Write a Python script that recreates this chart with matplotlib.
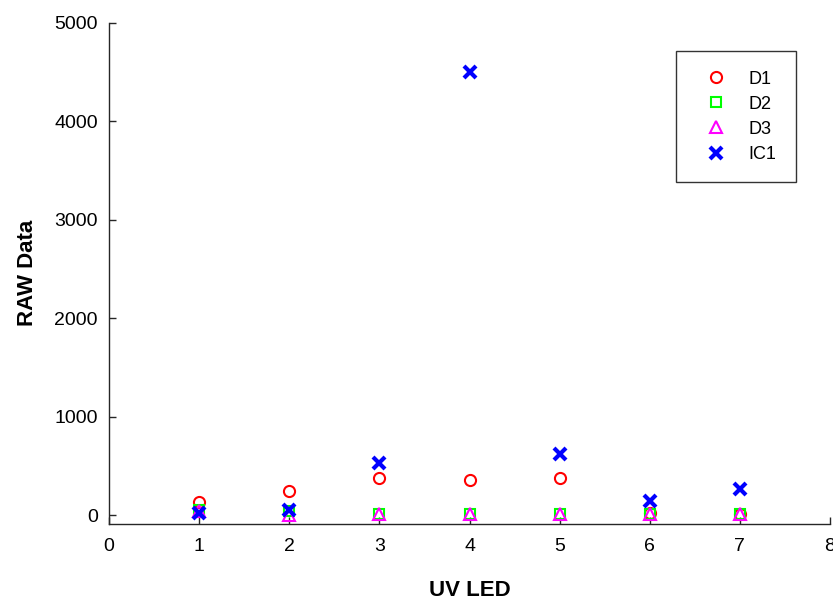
import matplotlib
matplotlib.use("Agg")
import matplotlib.pyplot as plt

plt.rcParams['font.family'] = ['Liberation Sans', 'DejaVu Sans']

x = [1, 2, 3, 4, 5, 6, 7]
d1 = [135, 247, 373, 355, 373, 20, 10]
d2 = [50, 45, 15, 15, 15, 15, 15]
d3 = [40, 5, 10, 10, 10, 10, 10]
ic1 = [17, 50, 531, 4500, 616, 145, 261]

xticks = [0, 1, 2, 3, 4, 5, 6, 7, 8]
yticks = [0, 1000, 2000, 3000, 4000, 5000]

fig = plt.figure(figsize=(8.33, 6.01), dpi=100)
ax = fig.add_axes([0.1309, 0.1281, 0.8655, 0.8341])

ax.plot(x, d1, linestyle='none', marker='o', markersize=8, markerfacecolor='none',
        markeredgecolor='#ff0000', markeredgewidth=1.5, label='D1')
ax.plot(x, d2, linestyle='none', marker='s', markersize=7.5, markerfacecolor='none',
        markeredgecolor='#00ff00', markeredgewidth=1.5, label='D2')
ax.plot(x, d3, linestyle='none', marker='^', markersize=8.5, markerfacecolor='none',
        markeredgecolor='#ff00ff', markeredgewidth=1.5, label='D3')
ax.plot(x, ic1, linestyle='none', marker='x', markersize=8, markerfacecolor='none',
        markeredgecolor='#0000ff', markeredgewidth=3, label='IC1')

ax.set_xlim(0, 8)
ax.set_ylim(-90, 5000)
ax.set_xticks(xticks)
ax.set_yticks(yticks)
ax.set_xticklabels([str(t) for t in xticks])
ax.set_yticklabels([str(t) for t in yticks])
ax.spines['top'].set_visible(False)
ax.spines['right'].set_visible(False)
for s in ['left', 'bottom']:
    ax.spines[s].set_color('#262626')
    ax.spines[s].set_linewidth(1.0)
ax.tick_params(direction='in', length=5, width=1, labelsize=14, colors='#262626',
               labelcolor='black')
ax.tick_params(axis='x', pad=10)
ax.tick_params(axis='y', pad=8)

ax.set_xlabel('UV LED', fontsize=16, fontweight='bold', labelpad=18)
ax.set_ylabel('RAW Data', fontsize=16, fontweight='bold', labelpad=12)

leg = ax.legend(loc='upper right', bbox_to_anchor=(0.9556, 0.9151),
                bbox_transform=fig.transFigure, borderaxespad=0, fontsize=13,
                frameon=True, fancybox=False, labelspacing=0.45, handletextpad=0.75,
                borderpad=1.08, handlelength=2.17)
leg.get_frame().set_edgecolor('black')
leg.get_frame().set_linewidth(1.0)

fig.savefig('out.png', dpi=100)
